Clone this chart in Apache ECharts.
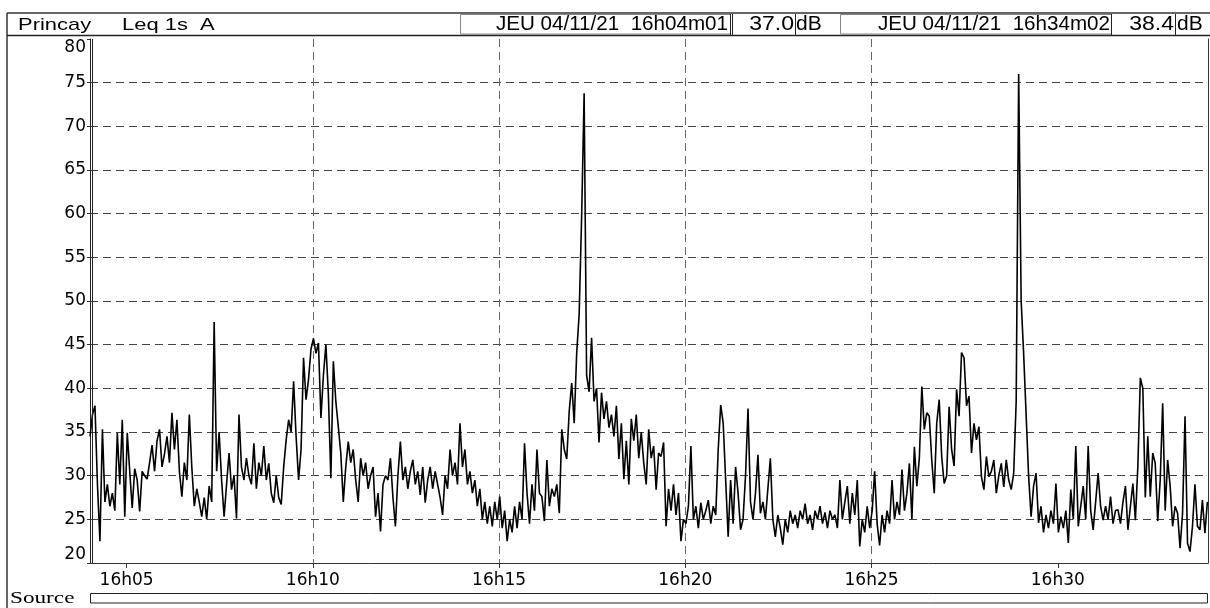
<!DOCTYPE html>
<html>
<head>
<meta charset="utf-8">
<script src="https://cdn.jsdelivr.net/npm/echarts@6/dist/echarts.min.js"></script>
<style>
html,body{margin:0;padding:0;background:#fff;}
#chart{width:1210px;height:608px;}
</style>
</head>
<body>
<div id="chart"></div>
<script>
// Time axis: seconds since 16h00m00 ; first sample 16h04m01, one value every 4 s
const startSec = 241;
const endSec = 2042;
const stepSec = 4;

// Leq 1s A levels (dB), one row per minute (15 samples of 4 s)
const levels = [
  34.5, 37.0, 38.0, 29.0, 22.5, 35.3, 27.0, 29.0, 26.5, 28.0, 26.0, 34.9, 29.0, 36.4, 25.3,
  34.9, 30.5, 26.3, 30.8, 29.5, 25.9, 30.5, 30.0, 29.6, 31.5, 33.5, 30.5, 34.0, 35.3, 31.0,
  32.5, 34.5, 31.5, 37.2, 33.0, 36.4, 30.5, 27.6, 31.5, 29.5, 37.0, 31.0, 26.5, 28.5, 27.0,
  25.3, 27.5, 25.0, 28.8, 27.0, 47.6, 30.5, 35.0, 29.5, 25.3, 29.0, 32.6, 28.4, 30.0, 25.1,
  37.0, 31.0, 29.5, 32.0, 30.0, 29.0, 33.7, 28.5, 31.5, 30.0, 33.4, 29.5, 31.4, 28.0, 26.9,
  30.0, 27.5, 26.7, 31.0, 34.1, 36.4, 35.0, 40.8, 34.5, 29.5, 33.0, 43.5, 38.7, 41.0, 44.5,
  45.7, 44.0, 45.2, 36.6, 41.5, 45.0, 39.3, 29.7, 43.1, 38.5, 35.6, 32.6, 27.0, 31.0, 33.9,
  31.5, 33.0, 29.5, 27.0, 32.0, 30.0, 31.5, 28.5, 30.0, 31.0, 25.3, 28.0, 23.6, 29.0, 30.0,
  29.5, 32.0, 27.5, 24.2, 30.0, 33.9, 29.5, 31.0, 28.5, 30.5, 31.8, 29.0, 30.5, 27.8, 31.0,
  26.9, 29.5, 31.0, 28.5, 30.5, 29.0, 27.5, 25.5, 30.0, 28.5, 33.0, 30.0, 31.5, 29.0, 36.0,
  31.0, 33.0, 29.0, 30.5, 28.0, 29.5, 26.5, 28.5, 25.0, 27.0, 24.5, 26.5, 24.2, 27.0, 25.0,
  27.6, 24.0, 26.0, 22.5, 25.0, 23.5, 26.5, 24.0, 27.0, 25.0, 33.7, 28.0, 24.5, 29.0, 26.0,
  33.0, 28.0, 27.6, 24.8, 31.8, 26.5, 28.5, 27.6, 29.0, 25.7, 35.3, 33.0, 31.9, 37.4, 40.6,
  36.0, 44.0, 48.5, 59.7, 73.8, 41.5, 39.6, 45.8, 38.5, 40.0, 33.8, 39.5, 36.5, 38.5, 35.5,
  37.0, 34.5, 38.0, 31.9, 36.0, 29.6, 34.0, 29.0, 36.5, 34.0, 37.0, 32.0, 35.0, 31.5, 29.0,
  35.3, 32.0, 33.4, 28.4, 32.6, 32.2, 33.8, 24.2, 28.5, 26.0, 29.0, 25.5, 28.0, 22.5, 25.0,
  24.5, 26.5, 33.4, 25.0, 26.5, 24.0, 26.9, 25.0, 26.0, 27.2, 24.5, 26.5, 25.5, 33.0, 38.1,
  36.0, 29.5, 23.0, 29.5, 24.5, 31.0, 28.0, 23.8, 25.0, 30.0, 37.7, 27.0, 25.0, 28.0, 32.4,
  25.7, 27.0, 25.0, 28.5, 32.0, 25.0, 23.0, 25.5, 24.0, 22.1, 25.0, 23.5, 26.0, 24.5, 25.5,
  24.0, 26.0, 25.0, 26.8, 24.5, 25.5, 23.8, 26.0, 25.0, 26.5, 24.5, 25.8, 24.0, 26.0, 25.0,
  25.5, 24.0, 29.5, 25.0, 27.0, 28.8, 24.5, 28.0, 25.5, 29.5, 21.9, 25.0, 23.5, 26.5, 24.0,
  26.0, 30.5, 24.5, 22.0, 25.5, 23.5, 26.0, 24.5, 29.5, 25.0, 27.0, 25.5, 30.7, 26.0, 28.0,
  31.4, 25.0, 33.3, 28.8, 32.0, 40.2, 35.3, 37.2, 36.8, 31.8, 28.0, 36.0, 38.7, 32.2, 29.1,
  30.0, 37.9, 33.0, 31.1, 39.9, 36.8, 44.1, 43.5, 38.0, 39.1, 32.6, 36.0, 34.1, 35.6, 29.9,
  28.4, 32.2, 29.9, 30.5, 31.8, 28.0, 30.0, 31.4, 28.7, 31.8, 29.5, 28.4, 30.3, 38.5, 76.0,
  50.0, 44.0, 37.0, 30.0, 25.3, 28.8, 30.3, 24.6, 26.5, 23.5, 25.5, 24.0, 26.0, 24.5, 29.1,
  23.5, 25.3, 24.0, 26.0, 22.3, 28.4, 25.0, 33.4, 24.2, 26.5, 28.8, 25.0, 33.4, 26.0, 23.8,
  27.0, 30.3, 26.5, 24.9, 26.5, 25.0, 27.6, 24.5, 26.0, 26.1, 24.5, 27.0, 28.8, 23.8, 26.5,
  29.1, 24.9, 31.1, 41.2, 40.0, 27.5, 34.5, 27.6, 32.6, 31.4, 24.8, 29.5, 38.3, 26.0, 31.8,
  28.8, 24.2, 26.5, 25.7, 21.7, 25.7, 36.8, 22.3, 21.3, 24.2, 29.0, 24.2, 23.8, 27.2, 23.4,
  27.0
];

const xTickValues = [300, 600, 900, 1200, 1500, 1800];
const xTickLabels = ['16h05', '16h10', '16h15', '16h20', '16h25', '16h30'];
const yMin = 20, yMax = 80, yStep = 5;

const headerLeft = ['Princay', 'Leq 1s  A'];
const startStamp = 'JEU 04/11/21  16h04m01';
const startValue = '37.0';
const endStamp = 'JEU 04/11/21  16h34m02';
const endValue = '38.4';
const unitText = 'dB';
const footerLabel = 'Source';

const data = levels.map((v, i) => [startSec + i * stepSec, v]);

const chart = echarts.init(document.getElementById('chart'), null, {renderer: 'canvas'});
const sans = '"Liberation Sans", Arial, sans-serif';
const axisFont = '"DejaVu Sans", sans-serif';

function hline(x1, x2, y, color, w) {
  return {type: 'line', silent: true, z: 10, shape: {x1: x1, y1: y, x2: x2, y2: y}, style: {stroke: color, lineWidth: w}};
}
function vline(x, y1, y2, color, w) {
  return {type: 'line', silent: true, z: 10, shape: {x1: x, y1: y1, x2: x, y2: y2}, style: {stroke: color, lineWidth: w}};
}
function txt(t, x, y, size, align, sx, family) {
  return {type: 'text', silent: true, z: 11, x: x, y: y, scaleX: sx || 1,
    style: {text: t, font: size + 'px ' + (family || sans), fill: '#000', align: align, verticalAlign: 'middle'}};
}

const option = {
  animation: false,
  backgroundColor: '#ffffff',
  grid: {left: 90, right: 2, top: 39, bottom: 45, containLabel: false},
  xAxis: {
    type: 'value', min: startSec, max: endSec,
    axisLine: {show: true, onZero: false, lineStyle: {color: '#333', width: 1}},
    axisTick: {show: true, customValues: xTickValues, length: 5, lineStyle: {color: '#333'}},
    axisLabel: {
      customValues: xTickValues,
      formatter: function (v) { const i = xTickValues.indexOf(v); return i >= 0 ? xTickLabels[i] : ''; },
      fontFamily: axisFont, fontSize: 17, color: '#000', margin: 9
    },
    splitLine: {show: true, showMinLine: false, showMaxLine: false, lineStyle: {type: [8, 5], color: '#666', width: 1}}
  },
  yAxis: [{
    type: 'value', min: yMin, max: yMax, interval: yStep,
    axisLine: {show: true, lineStyle: {color: '#222', width: 1}},
    axisTick: {show: true, length: 3, lineStyle: {color: '#333'}},
    axisLabel: {fontFamily: axisFont, fontSize: 17, color: '#000', margin: 4,
      verticalAlignMinLabel: 'bottom', verticalAlignMaxLabel: 'top'},
    splitLine: {show: true, showMinLine: false, showMaxLine: false, lineStyle: {type: [8, 5], color: '#444', width: 1}}
  }, {
    type: 'value', min: yMin, max: yMax, interval: yStep, position: 'right',
    axisLine: {show: true, lineStyle: {color: '#333', width: 1}},
    axisTick: {show: false}, axisLabel: {show: false}, splitLine: {show: false}
  }],
  series: [{
    type: 'line', data: data, yAxisIndex: 0,
    showSymbol: false, symbol: 'none', smooth: false,
    lineStyle: {color: '#000', width: 1.6}, z: 3
  }],
  graphic: [
    hline(7, 1210, 13, '#666', 2),
    vline(7, 13, 608, '#333', 1.5),
    hline(7, 1210, 35.5, '#222', 1.5),
    {type: 'rect', silent: true, z: 9, shape: {x: 460.5, y: 14.5, width: 270, height: 19.5}, style: {fill: 'none', stroke: '#888', lineWidth: 1}},
    {type: 'rect', silent: true, z: 9, shape: {x: 840.5, y: 14.5, width: 271, height: 19.5}, style: {fill: 'none', stroke: '#888', lineWidth: 1}},
    vline(730.5, 14, 35, '#222', 1),
    vline(732.5, 14, 35, '#222', 1),
    vline(795.5, 14, 35, '#222', 1),
    vline(1111.5, 14, 35, '#222', 1),
    vline(1175.5, 14, 35, '#222', 1),
    txt(headerLeft[0], 18, 25, 17, 'left', 1.29),
    txt(headerLeft[1], 122, 25, 17, 'left', 1.29),
    txt(startStamp, 728, 24, 20, 'right', 1.03),
    txt(startValue, 794, 24, 20, 'right', 1.15),
    txt(unitText, 796, 24, 20, 'left', 1.05),
    txt(endStamp, 1110, 24, 20, 'right', 1.03),
    txt(endValue, 1174, 24, 20, 'right', 1.15),
    txt(unitText, 1177, 24, 20, 'left', 1.05),
    vline(92.5, 39, 563, '#222', 1),
    txt(footerLabel, 10, 599, 16, 'left', 1.45, '"Liberation Serif", "Times New Roman", serif'),
    {type: 'rect', silent: true, z: 9, shape: {x: 90.5, y: 593.5, width: 1117, height: 9.5}, style: {fill: 'none', stroke: '#222', lineWidth: 1}}
  ]
};
chart.setOption(option);
</script>
</body>
</html>
